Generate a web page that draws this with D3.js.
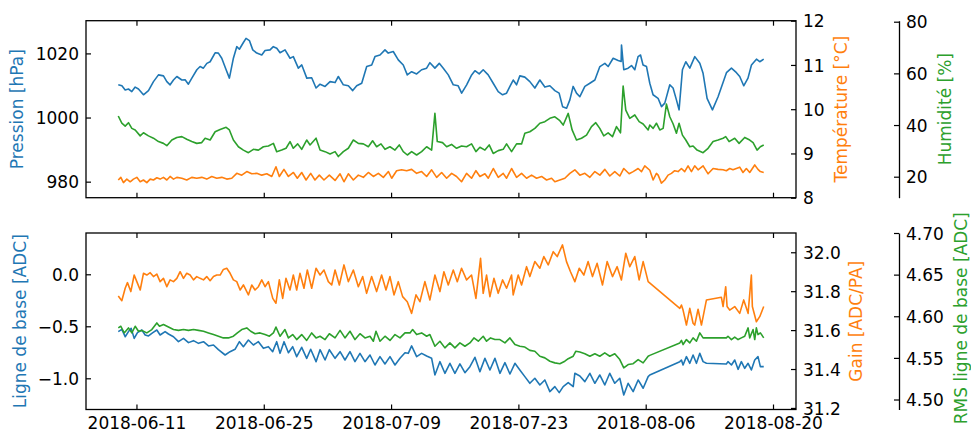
<!DOCTYPE html>
<html>
<head>
<meta charset="utf-8">
<script src="https://cdn.jsdelivr.net/npm/d3@7"></script>
<style>
  html, body { margin: 0; padding: 0; background: #fff; }
  svg { display: block; font-family: "DejaVu Sans", "Liberation Sans", sans-serif; }
</style>
</head>
<body>
<svg id="chart" width="971" height="430"></svg>
<script>
// ---- Data: [days since startDay, value] ----
const startDay = "2018-06-09";
const dateTicks = ["2018-06-11", "2018-06-25", "2018-07-09", "2018-07-23", "2018-08-06", "2018-08-20"];

const pressionTicks = [980, 1000, 1020];
const temperatureTicks = [8, 9, 10, 11, 12];
const humiditeTicks = [20, 40, 60, 80];
const ligneBaseTicks = [-1.0, -0.5, 0.0];
const gainTicks = [31.2, 31.4, 31.6, 31.8, 32.0];
const rmsTicks = [4.50, 4.55, 4.60, 4.65, 4.70];

const pressionDomain = [975.0, 1030.2];
const temperatureDomain = [8, 12];
const humiditeDomain = [11.87, 80.39];
const ligneBaseDomain = [-1.30, 0.397];
const gainDomain = [31.192, 32.099];
const rmsDomain = [4.488, 4.70];

const pression = [[0,1010.2],[0.4,1009.9],[0.76,1008.6],[1.12,1008.9],[1.49,1008.1],[1.86,1009.5],[2.22,1008.9],[2.77,1007.1],[3.32,1008.4],[3.87,1011.2],[4.42,1013.3],[4.97,1013.0],[5.34,1011.2],[5.7,1010.2],[6.07,1011.7],[6.44,1012.8],[6.99,1011.7],[7.35,1011.8],[7.71,1010.4],[8.09,1012.3],[8.64,1014.9],[9.0,1015.9],[9.36,1015.4],[9.74,1016.9],[10.1,1017.4],[10.65,1020.2],[11.01,1020.1],[11.38,1018.5],[11.86,1014.9],[12.22,1012.3],[12.66,1018.5],[13.03,1022.1],[13.32,1021.3],[13.76,1023.4],[14.05,1024.7],[14.42,1024.0],[14.79,1021.1],[15.23,1020.1],[15.78,1019.5],[16.14,1020.9],[16.69,1021.1],[17.05,1022.1],[17.43,1021.6],[17.79,1020.2],[18.34,1021.1],[18.89,1018.5],[19.25,1019.0],[19.8,1015.4],[20.18,1016.4],[20.73,1012.3],[21.27,1012.4],[21.75,1009.2],[22.19,1010.4],[22.74,1009.7],[23.29,1011.2],[23.84,1010.9],[24.2,1012.8],[24.75,1010.2],[25.3,1009.9],[25.78,1008.4],[26.22,1009.9],[26.77,1010.7],[27.32,1015.9],[27.87,1016.4],[28.23,1019.0],[28.78,1019.5],[29.33,1021.1],[29.69,1020.1],[30.24,1020.6],[30.79,1018.0],[31.34,1016.4],[31.78,1013.3],[32.26,1014.3],[32.81,1013.6],[33.36,1014.9],[33.91,1015.4],[34.27,1017.1],[34.82,1015.4],[35.3,1016.9],[35.74,1015.4],[36.29,1013.3],[36.84,1010.2],[37.38,1009.9],[37.76,1007.6],[38.31,1010.2],[38.86,1013.3],[39.22,1014.6],[39.69,1013.6],[40.13,1014.9],[40.68,1013.3],[41.23,1010.7],[41.78,1008.1],[42.26,1007.1],[42.7,1007.6],[43.07,1009.7],[43.43,1011.7],[43.8,1010.2],[44.16,1013.0],[44.71,1012.6],[45.26,1011.2],[45.81,1009.2],[46.36,1011.7],[46.91,1009.5],[47.46,1009.9],[48.01,1008.4],[48.48,1007.6],[48.86,1003.4],[49.3,1002.9],[49.66,1005.5],[50.02,1009.7],[50.39,1007.6],[50.76,1006.5],[51.31,1009.7],[51.86,1010.7],[52.41,1011.7],[52.96,1015.9],[53.51,1016.9],[53.87,1015.9],[54.42,1018.5],[54.97,1017.8],[55.3,1017.5],[55.34,1022.6],[55.59,1014.9],[56.07,1015.4],[56.44,1016.2],[56.8,1014.9],[57.16,1019.0],[57.43,1019.5],[57.71,1016.4],[58.09,1015.9],[58.45,1010.7],[58.81,1007.1],[59.36,1006.0],[59.74,1003.4],[60.1,1004.5],[60.65,1010.2],[61.01,1009.2],[61.38,1005.5],[61.67,1002.4],[62.04,1014.9],[62.41,1017.4],[62.85,1015.4],[63.4,1019.0],[63.95,1016.9],[64.31,1013.8],[64.75,1006.0],[65.34,1002.4],[65.96,1006.5],[66.88,1014.0],[67.43,1015.4],[67.98,1014.0],[68.34,1012.8],[68.78,1009.9],[69.25,1012.3],[69.63,1016.4],[70.18,1018.2],[70.54,1017.4],[70.98,1018.2]];

const temperature = [[0,8.40],[0.28,8.46],[0.57,8.34],[0.94,8.42],[1.31,8.36],[1.67,8.42],[2.04,8.46],[2.41,8.36],[2.77,8.40],[3.14,8.34],[3.51,8.42],[3.87,8.40],[4.24,8.45],[4.6,8.42],[4.97,8.46],[5.34,8.40],[5.7,8.48],[6.07,8.42],[6.44,8.46],[6.99,8.44],[7.53,8.40],[8.08,8.46],[8.63,8.44],[9.18,8.46],[9.73,8.42],[10.28,8.48],[10.83,8.44],[11.38,8.46],[11.93,8.42],[12.48,8.44],[13.03,8.55],[13.58,8.51],[14.13,8.59],[14.68,8.54],[15.23,8.55],[15.78,8.51],[16.33,8.54],[16.88,8.48],[17.34,8.70],[17.71,8.48],[18.22,8.64],[18.71,8.48],[19.26,8.57],[19.69,8.44],[20.17,8.57],[20.65,8.40],[21.16,8.55],[21.63,8.40],[22.11,8.51],[22.62,8.40],[23.21,8.51],[23.84,8.39],[24.39,8.54],[24.82,8.36],[25.3,8.54],[25.85,8.40],[26.4,8.51],[26.95,8.46],[27.5,8.57],[28.05,8.48],[28.6,8.55],[29.15,8.46],[29.71,8.59],[30.07,8.44],[30.61,8.61],[31.16,8.63],[31.71,8.61],[32.26,8.64],[32.81,8.55],[33.36,8.59],[33.91,8.48],[34.46,8.63],[35.01,8.46],[35.56,8.57],[36.11,8.44],[36.66,8.55],[37.2,8.48],[37.75,8.36],[38.3,8.55],[38.85,8.44],[39.33,8.61],[39.77,8.48],[40.32,8.54],[40.69,8.44],[41.24,8.66],[41.79,8.46],[42.33,8.55],[42.7,8.44],[43.25,8.66],[43.8,8.46],[44.35,8.55],[44.9,8.44],[45.45,8.51],[46.0,8.44],[46.55,8.48],[47.1,8.40],[47.65,8.44],[48.01,8.36],[48.56,8.40],[49.11,8.44],[49.66,8.55],[50.21,8.63],[50.76,8.51],[51.31,8.55],[51.86,8.46],[52.41,8.59],[52.96,8.51],[53.51,8.64],[54.05,8.49],[54.6,8.59],[55.15,8.49],[55.59,8.66],[56.18,8.54],[56.62,8.59],[57.17,8.66],[57.54,8.59],[57.9,8.72],[58.45,8.62],[58.82,8.40],[59.18,8.55],[59.37,8.51],[59.73,8.33],[60.1,8.40],[60.46,8.51],[60.83,8.55],[61.19,8.61],[61.56,8.59],[61.93,8.66],[62.29,8.59],[62.66,8.72],[63.03,8.59],[63.39,8.72],[63.76,8.63],[64.31,8.72],[64.86,8.54],[65.41,8.66],[65.96,8.64],[66.51,8.63],[66.87,8.61],[67.24,8.66],[67.6,8.63],[67.97,8.66],[68.34,8.69],[68.7,8.57],[69.07,8.66],[69.44,8.57],[69.99,8.74],[70.35,8.64],[70.61,8.59],[70.98,8.57]];

const humidite = [[0,43.5],[0.39,40.7],[0.76,39.6],[1.12,40.9],[1.49,38.7],[1.86,38.1],[2.41,35.8],[2.77,37.0],[3.32,35.8],[3.87,34.9],[4.42,33.6],[4.97,32.9],[5.34,32.0],[5.89,34.2],[6.44,35.2],[6.99,35.5],[7.53,34.5],[8.08,33.6],[8.63,32.9],[9.18,33.2],[9.55,34.9],[10.1,34.2],[10.65,37.4],[11.2,38.3],[11.86,39.1],[12.22,38.1],[12.66,34.2],[13.21,31.6],[13.76,30.3],[14.31,29.3],[14.86,30.6],[15.41,30.3],[15.96,31.6],[16.51,31.9],[17.06,32.9],[17.42,29.7],[17.97,30.3],[18.45,31.0],[18.89,33.6],[19.25,31.0],[19.73,32.7],[20.17,30.6],[20.72,34.2],[21.09,32.3],[21.75,34.9],[22.19,30.3],[22.74,29.7],[23.29,28.8],[23.84,29.7],[24.2,27.8],[24.75,29.7],[25.3,31.0],[25.85,34.2],[26.4,32.9],[26.95,32.7],[27.5,31.6],[27.97,33.9],[28.41,31.6],[28.89,32.7],[29.33,30.6],[29.88,31.6],[30.43,30.3],[30.9,32.3],[31.34,29.7],[31.79,28.4],[32.26,29.7],[32.81,28.4],[33.36,29.7],[33.91,31.6],[34.46,30.3],[34.82,44.5],[35.08,33.6],[35.66,33.2],[36.11,31.6],[36.65,32.5],[37.2,31.0],[37.75,31.9],[38.3,31.6],[38.85,32.7],[39.33,29.7],[39.77,31.4],[40.32,30.3],[40.79,32.3],[41.23,29.0],[41.78,30.1],[42.33,30.6],[42.7,32.7],[43.25,29.7],[43.8,32.7],[44.35,32.7],[44.71,36.8],[45.26,37.4],[45.81,38.7],[46.36,40.7],[46.91,41.3],[47.46,42.6],[48.01,43.2],[48.56,41.7],[48.93,40.0],[49.48,44.5],[49.91,38.1],[50.39,34.2],[50.94,34.9],[51.49,36.1],[52.04,39.4],[52.51,40.9],[52.95,38.7],[53.39,35.8],[53.87,37.0],[54.35,35.5],[54.79,39.4],[55.23,37.0],[55.52,55.1],[55.81,45.8],[56.25,42.6],[56.8,43.9],[57.28,41.3],[57.72,40.4],[58.27,38.1],[58.45,40.0],[58.82,38.7],[59.18,40.7],[59.55,38.1],[59.92,38.7],[60.28,48.1],[60.65,43.2],[61.02,40.4],[61.38,36.8],[61.67,40.7],[62.04,36.1],[62.41,34.2],[62.85,31.6],[63.21,31.9],[63.65,30.3],[64.31,29.3],[64.86,31.0],[65.41,33.6],[65.96,34.2],[66.51,34.9],[66.8,35.5],[67.17,33.6],[67.79,34.9],[68.27,32.9],[68.89,35.2],[69.44,34.2],[69.81,33.2],[70.25,30.3],[70.61,31.6],[70.98,32.3]];

const ligneBase = [[0,-0.551],[0.39,-0.529],[0.76,-0.600],[1.12,-0.551],[1.42,-0.520],[1.75,-0.616],[2.11,-0.561],[2.59,-0.536],[2.96,-0.584],[3.32,-0.593],[3.8,-0.561],[4.24,-0.536],[4.6,-0.584],[5.15,-0.551],[5.52,-0.574],[6.07,-0.600],[6.62,-0.648],[7.17,-0.616],[7.72,-0.657],[8.27,-0.638],[8.82,-0.664],[9.37,-0.648],[9.92,-0.689],[10.47,-0.680],[11.01,-0.725],[11.75,-0.776],[12.29,-0.744],[12.84,-0.721],[13.32,-0.648],[13.76,-0.696],[14.31,-0.632],[14.86,-0.680],[15.41,-0.648],[15.96,-0.712],[16.51,-0.696],[16.98,-0.744],[17.42,-0.648],[17.79,-0.760],[18.23,-0.648],[18.71,-0.754],[19.18,-0.696],[19.62,-0.792],[20.17,-0.702],[20.72,-0.808],[21.16,-0.721],[21.75,-0.840],[22.19,-0.725],[22.74,-0.824],[23.21,-0.725],[23.84,-0.808],[24.39,-0.744],[24.93,-0.824],[25.48,-0.744],[26.03,-0.840],[26.58,-0.760],[27.13,-0.840],[27.68,-0.776],[28.23,-0.872],[28.78,-0.792],[29.33,-0.862],[29.88,-0.792],[30.43,-0.872],[30.98,-0.808],[31.53,-0.754],[31.89,-0.760],[32.26,-0.689],[32.81,-0.792],[33.36,-0.760],[33.91,-0.786],[34.46,-0.808],[34.82,-0.968],[35.37,-0.840],[35.92,-0.952],[36.47,-0.856],[37.02,-0.952],[37.57,-0.862],[38.12,-0.946],[38.67,-0.888],[39.22,-0.798],[39.77,-0.936],[40.32,-0.808],[40.87,-0.920],[41.42,-0.808],[41.97,-0.952],[42.52,-0.850],[43.07,-0.959],[43.62,-0.856],[44.16,-0.920],[44.71,-0.984],[45.26,-1.048],[45.81,-1.000],[46.36,-1.064],[46.91,-1.016],[47.46,-1.128],[48.01,-1.080],[48.49,-1.138],[48.93,-1.080],[49.48,-1.042],[50.03,-1.080],[50.21,-0.952],[50.76,-0.978],[51.31,-1.032],[51.86,-0.952],[52.41,-1.048],[52.95,-0.968],[53.5,-1.064],[54.05,-0.952],[54.6,-1.048],[55.15,-1.000],[55.59,-1.161],[56.07,-1.048],[56.62,-1.128],[57.17,-1.016],[57.72,-1.096],[58.27,-0.984],[58.45,-0.968],[61.75,-0.840],[61.93,-0.824],[62.11,-0.872],[62.48,-0.792],[62.85,-0.856],[63.21,-0.776],[63.58,-0.856],[63.95,-0.760],[64.31,-0.840],[64.68,-0.856],[66.87,-0.862],[67.05,-0.840],[67.43,-0.872],[67.79,-0.824],[68.16,-0.914],[68.52,-0.840],[68.89,-0.904],[69.26,-0.856],[69.62,-0.920],[69.99,-0.824],[70.35,-0.792],[70.61,-0.888],[70.98,-0.888]];

const gain = [[0,31.775],[0.39,31.751],[0.76,31.815],[1.01,31.844],[1.38,31.798],[1.75,31.883],[2.04,31.849],[2.41,31.806],[2.77,31.892],[3.14,31.883],[3.51,31.895],[3.87,31.875],[4.24,31.888],[4.6,31.849],[4.97,31.866],[5.34,31.823],[5.7,31.858],[6.07,31.849],[6.44,31.866],[6.8,31.900],[7.17,31.866],[7.53,31.892],[7.9,31.883],[8.27,31.858],[8.63,31.875],[9.0,31.866],[9.37,31.858],[9.73,31.875],[10.1,31.854],[10.47,31.875],[10.83,31.883],[11.2,31.883],[11.56,31.912],[11.93,31.918],[12.3,31.892],[12.66,31.858],[13.03,31.849],[13.4,31.806],[13.76,31.832],[14.31,31.781],[14.68,31.832],[15.04,31.806],[15.41,31.823],[15.78,31.858],[16.14,31.823],[16.51,31.849],[16.99,31.763],[17.34,31.738],[17.71,31.858],[18.08,31.763],[18.44,31.866],[18.88,31.806],[19.25,31.883],[19.62,31.806],[19.98,31.892],[20.42,31.815],[20.79,31.909],[21.27,31.815],[21.75,31.918],[22.19,31.883],[22.62,31.909],[23.1,31.849],[23.47,31.832],[23.84,31.909],[24.31,31.832],[24.82,31.935],[25.3,31.849],[25.85,31.909],[26.4,31.823],[26.88,31.875],[27.31,31.789],[27.86,31.875],[28.41,31.798],[28.96,31.883],[29.44,31.806],[29.88,31.875],[30.32,31.781],[30.79,31.849],[31.27,31.772],[31.78,31.746],[32.26,31.686],[32.74,31.781],[33.17,31.746],[33.72,31.849],[34.27,31.755],[34.82,31.883],[35.37,31.798],[35.81,31.900],[36.29,31.832],[36.84,31.909],[37.28,31.849],[37.75,31.918],[38.3,31.858],[38.85,31.883],[39.33,31.763],[39.84,31.969],[40.13,31.789],[40.5,31.883],[40.87,31.772],[41.31,31.866],[41.78,31.789],[42.26,31.858],[42.7,31.815],[43.25,31.883],[43.43,31.781],[43.98,31.883],[44.35,31.832],[44.9,31.926],[45.26,31.875],[45.81,31.952],[46.36,31.918],[46.8,31.978],[47.28,31.935],[47.83,32.003],[48.27,31.978],[48.85,32.038],[49.29,31.952],[49.73,31.900],[50.21,31.849],[50.69,31.918],[51.2,31.883],[51.67,31.952],[52.15,31.875],[52.66,31.943],[53.25,31.832],[53.76,31.952],[54.35,31.875],[54.86,31.926],[55.33,31.858],[55.81,31.995],[56.25,31.926],[56.8,31.978],[57.28,31.858],[57.72,31.952],[58.27,31.849],[61.75,31.712],[61.93,31.729],[62.11,31.703],[62.48,31.626],[62.85,31.712],[63.21,31.635],[63.39,31.626],[63.76,31.707],[64.13,31.626],[64.68,31.755],[66.32,31.769],[66.51,31.721],[66.8,31.823],[66.95,31.721],[67.24,31.703],[67.79,31.721],[68.34,31.686],[68.78,31.755],[69.26,31.686],[69.62,31.883],[69.73,31.721],[70.17,31.643],[70.54,31.669],[70.98,31.721]];

const rmsLigneBase = [[0,4.586],[0.28,4.588],[0.65,4.580],[1.12,4.586],[1.49,4.580],[1.86,4.588],[2.22,4.582],[2.59,4.583],[3.14,4.580],[3.69,4.584],[4.24,4.592],[4.53,4.588],[4.97,4.590],[5.52,4.587],[6.07,4.584],[6.62,4.583],[7.17,4.584],[7.72,4.583],[8.27,4.584],[8.82,4.583],[9.37,4.582],[9.92,4.580],[10.47,4.578],[11.01,4.576],[11.56,4.574],[12.11,4.574],[12.66,4.576],[13.1,4.580],[13.58,4.584],[14.13,4.586],[14.56,4.582],[15.04,4.579],[15.59,4.580],[16.14,4.578],[16.62,4.576],[17.06,4.580],[17.34,4.587],[17.79,4.576],[18.33,4.584],[18.71,4.574],[19.18,4.578],[19.62,4.572],[20.17,4.578],[20.72,4.571],[21.27,4.580],[21.75,4.574],[22.19,4.576],[22.74,4.572],[23.21,4.579],[23.84,4.574],[24.39,4.583],[24.93,4.574],[25.48,4.582],[26.03,4.572],[26.58,4.579],[27.13,4.574],[27.68,4.576],[28.05,4.570],[28.34,4.582],[28.78,4.570],[29.33,4.576],[29.88,4.571],[30.43,4.578],[30.98,4.574],[31.53,4.580],[32.08,4.580],[32.37,4.584],[32.81,4.578],[33.36,4.580],[33.91,4.576],[34.27,4.578],[34.82,4.564],[35.37,4.570],[35.92,4.562],[36.47,4.568],[37.02,4.562],[37.57,4.568],[38.12,4.564],[38.67,4.568],[39.11,4.574],[39.59,4.570],[40.13,4.576],[40.5,4.570],[40.94,4.574],[41.42,4.572],[41.97,4.572],[42.52,4.568],[43.07,4.574],[43.62,4.566],[44.16,4.564],[44.71,4.563],[45.26,4.559],[45.81,4.558],[46.36,4.552],[46.91,4.550],[47.46,4.546],[48.01,4.544],[48.56,4.543],[49.11,4.546],[49.48,4.549],[50.03,4.552],[50.32,4.558],[50.76,4.557],[51.31,4.555],[51.86,4.552],[52.41,4.555],[52.95,4.552],[53.5,4.556],[54.05,4.552],[54.6,4.555],[55.15,4.548],[55.59,4.538],[56.07,4.542],[56.62,4.543],[57.17,4.548],[57.72,4.544],[58.27,4.552],[58.45,4.553],[61.75,4.568],[61.93,4.571],[62.11,4.566],[62.48,4.572],[62.85,4.568],[63.21,4.574],[63.58,4.570],[63.95,4.580],[64.31,4.574],[64.68,4.574],[66.87,4.574],[67.05,4.576],[67.43,4.572],[67.79,4.575],[68.16,4.572],[68.52,4.574],[68.89,4.576],[69.26,4.586],[69.44,4.574],[69.81,4.584],[69.99,4.572],[70.17,4.586],[70.35,4.578],[70.61,4.580],[70.98,4.574]];

// ---- Layout ----
const svg = d3.select("#chart");
const plotLeft = 86, plotRight = 796, offsetAxisX = 899;
const topPanel = { top: 20.7, bottom: 197.7 };
const bottomPanel = { top: 233, bottom: 409.5 };
const tickLen = 5, tickPad = 7, fontSize = 17;
const colors = { blue: "#1f77b4", orange: "#ff7f0e", green: "#2ca02c" };

const parseDay = d3.utcParse("%Y-%m-%d");
const t0 = parseDay(startDay).getTime();
const toDate = days => new Date(t0 + days * 864e5);

// time extent of all series, padded by 5% on each side
const allDays = [pression, temperature, humidite, ligneBase, gain, rmsLigneBase].flatMap(s => s.map(d => d[0]));
const [dMin, dMax] = d3.extent(allDays);
const dPad = (dMax - dMin) * 0.05;
const x = d3.scaleUtc().domain([toDate(dMin - dPad), toDate(dMax + dPad)]).range([plotLeft, plotRight]);

function styleAxis(g) {
  g.attr("font-family", null).attr("font-size", null);
  g.selectAll(".tick line").attr("stroke", "#000").attr("stroke-width", 1.2);
  g.selectAll(".tick text").attr("fill", "#000").style("font-size", fontSize + "px")
    .style("font-family", '"DejaVu Sans", sans-serif');
}

function drawPanel(p, series, showDates) {
  const g = svg.append("g");
  const yLeft = d3.scaleLinear().domain(series[0].domain).range([p.bottom, p.top]);
  const yRight = d3.scaleLinear().domain(series[1].domain).range([p.bottom, p.top]);
  const yOff = d3.scaleLinear().domain(series[2].domain).range([p.bottom, p.top]);

  // x axes: inward ticks on bottom and top spines
  const xb = g.append("g").attr("transform", `translate(0,${p.bottom})`)
    .call(d3.axisBottom(x).tickValues(dateTicks.map(parseDay))
      .tickFormat(showDates ? d3.utcFormat("%Y-%m-%d") : () => "")
      .tickSizeInner(-tickLen).tickSizeOuter(0).tickPadding(tickPad));
  xb.select(".domain").remove();
  styleAxis(xb);
  xb.selectAll(".tick text").attr("dy", "0.71em");

  const xt = g.append("g").attr("transform", `translate(0,${p.top})`)
    .call(d3.axisTop(x).tickValues(dateTicks.map(parseDay)).tickFormat(() => "")
      .tickSizeInner(-tickLen).tickSizeOuter(0));
  xt.select(".domain").remove();
  styleAxis(xt);

  // y axes
  const yl = g.append("g").attr("transform", `translate(${plotLeft},0)`)
    .call(d3.axisLeft(yLeft).tickValues(series[0].ticks).tickFormat(series[0].fmt)
      .tickSizeInner(-tickLen).tickSizeOuter(0).tickPadding(tickPad));
  yl.select(".domain").remove();
  styleAxis(yl);
  yl.selectAll(".tick text").attr("dy", "0.36em");

  const yr = g.append("g").attr("transform", `translate(${plotRight},0)`)
    .call(d3.axisRight(yRight).tickValues(series[1].ticks).tickFormat(series[1].fmt)
      .tickSizeInner(-tickLen).tickSizeOuter(0).tickPadding(tickPad));
  yr.select(".domain").remove();
  styleAxis(yr);
  yr.selectAll(".tick text").attr("dy", "0.36em");

  const yo = g.append("g").attr("transform", `translate(${offsetAxisX},0)`)
    .call(d3.axisRight(yOff).tickValues(series[2].ticks).tickFormat(series[2].fmt)
      .tickSizeInner(-tickLen).tickSizeOuter(0).tickPadding(tickPad));
  yo.select(".domain").attr("stroke", "#000").attr("stroke-width", 1.3);
  styleAxis(yo);
  yo.selectAll(".tick text").attr("dy", "0.36em");

  // series lines
  const scales = [yLeft, yRight, yOff];
  series.forEach((s, i) => {
    const line = d3.line().x(d => x(toDate(d[0]))).y(d => scales[i](d[1]));
    g.append("path").datum(s.data)
      .attr("fill", "none").attr("stroke", s.color).attr("stroke-width", 1.6)
      .attr("stroke-linejoin", "round").attr("d", line);
  });

  // frame
  g.append("rect").attr("x", plotLeft).attr("y", p.top)
    .attr("width", plotRight - plotLeft).attr("height", p.bottom - p.top)
    .attr("fill", "none").attr("stroke", "#000").attr("stroke-width", 1.3);

  // axis titles
  series.forEach(s => {
    g.append("text")
      .attr("transform", `translate(${s.labelX},${s.labelY}) rotate(-90)`)
      .attr("text-anchor", "middle")
      .attr("fill", s.color)
      .style("font-size", fontSize + "px")
      .text(s.label);
  });
}

const fmtInt = d3.format("d");
const fmt1 = d3.format(".1f");
const fmt2 = d3.format(".2f");
const midTop = (topPanel.top + topPanel.bottom) / 2;
const midBottom = (bottomPanel.top + bottomPanel.bottom) / 2;

drawPanel(topPanel, [
  { data: pression, domain: pressionDomain, ticks: pressionTicks, fmt: fmtInt, color: colors.blue,
    label: "Pression [hPa]", labelX: 23, labelY: midTop },
  { data: temperature, domain: temperatureDomain, ticks: temperatureTicks, fmt: fmtInt, color: colors.orange,
    label: "Température [°C]", labelX: 846.5, labelY: midTop },
  { data: humidite, domain: humiditeDomain, ticks: humiditeTicks, fmt: fmtInt, color: colors.green,
    label: "Humidité [%]", labelX: 950.5, labelY: midTop }
], false);

drawPanel(bottomPanel, [
  { data: ligneBase, domain: ligneBaseDomain, ticks: ligneBaseTicks, fmt: fmt1, color: colors.blue,
    label: "Ligne de base [ADC]", labelX: 25.5, labelY: midBottom },
  { data: gain, domain: gainDomain, ticks: gainTicks, fmt: fmt1, color: colors.orange,
    label: "Gain [ADC/PA]", labelX: 862, labelY: midBottom },
  { data: rmsLigneBase, domain: rmsDomain, ticks: rmsTicks, fmt: fmt2, color: colors.green,
    label: "RMS ligne de base [ADC]", labelX: 967, labelY: midBottom - 3 }
], true);
</script>
</body>
</html>
